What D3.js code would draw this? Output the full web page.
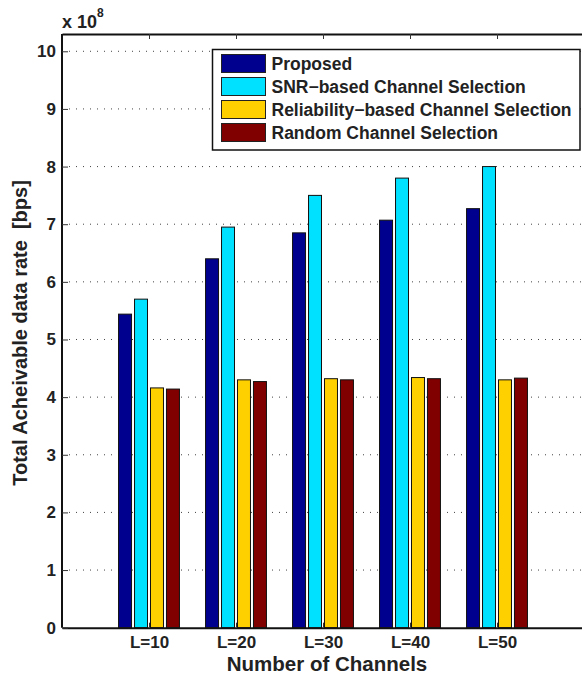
<!DOCTYPE html>
<html>
<head>
<meta charset="utf-8">
<title>Total achievable data rate vs number of channels</title>
<script src="https://d3js.org/d3.v7.min.js"></script>
<style>
  body { margin: 0; background: #fff; }
  text { font-family: "Liberation Sans", Arial, Helvetica, sans-serif; font-weight: bold; fill: #222; }
  .grid line { stroke: #444; stroke-width: 1; stroke-dasharray: 1,6; }
  .bar { stroke: #111; stroke-width: 1; }
</style>
</head>
<body>
<svg width="582" height="675"></svg>
<script>
// chart data (values in units of 1e8 bps)
const categories = ["L=10", "L=20", "L=30", "L=40", "L=50"];
const series = ["Proposed", "SNR\u2212based Channel Selection", "Reliability\u2212based Channel Selection", "Random Channel Selection"];
const colors = ["#00008f", "#00e1ff", "#ffd000", "#800000"];
const proposed    = [5.44, 6.40, 6.85, 7.07, 7.27];
const snrBased    = [5.70, 6.95, 7.50, 7.80, 8.00];
const reliability = [4.16, 4.30, 4.32, 4.34, 4.30];
const randomSel   = [4.14, 4.27, 4.30, 4.32, 4.33];
const yTicks = [0, 1, 2, 3, 4, 5, 6, 7, 8, 9, 10];

const values = [proposed, snrBased, reliability, randomSel];

const svg = d3.select("svg");
const pl = 62, pr = 584, pt = 34, pb = 627.7;

var x = d3.scaleLinear().domain([0, 6]).range([pl, pr]);
var y = d3.scaleLinear().domain([0, 10.3]).range([pb, pt]);
// offset of each series inside a group, in x units
var inner = d3.scaleBand().domain(d3.range(series.length))
    .range([-0.35, 0.35]).paddingInner(0.1875);

// dotted grid
svg.append("g").attr("class", "grid")
  .selectAll("line").data(yTicks.slice(1)).enter().append("line")
    .attr("x1", pl).attr("x2", pr)
    .attr("y1", d => y(d)).attr("y2", d => y(d));

// bars
var data = [];
categories.forEach((c, i) => {
  values.forEach((s, j) => data.push({ g: i + 1, s: j, v: s[i] }));
});
svg.append("g").selectAll("rect").data(data).enter().append("rect")
  .attr("class", "bar")
  .attr("x", d => x(d.g + inner(d.s)))
  .attr("width", d => x(inner.bandwidth()) - x(0))
  .attr("y", d => y(d.v))
  .attr("height", d => y(0) - y(d.v))
  .attr("fill", d => colors[d.s]);

// axes (ticks pointing inward)
var xb = d3.axisBottom(x).tickValues([1, 2, 3, 4, 5]).tickSizeInner(-5).tickSizeOuter(0)
  .tickFormat(d => categories[d - 1]).tickPadding(8);
var gx = svg.append("g").attr("transform", "translate(0," + pb + ")").call(xb);
var xt = d3.axisTop(x).tickValues([1, 2, 3, 4, 5]).tickSizeInner(-5).tickSizeOuter(0).tickFormat("");
var gxt = svg.append("g").attr("transform", "translate(0," + pt + ")").call(xt);
var yl = d3.axisLeft(y).tickValues(yTicks).tickSizeInner(-6).tickSizeOuter(0).tickPadding(6);
var gy = svg.append("g").attr("transform", "translate(" + pl + ",0)").call(yl);

[gx, gxt, gy].forEach(g => {
  g.select(".domain").attr("stroke", "#111").attr("stroke-width", 2);
  g.selectAll(".tick line").attr("stroke", "#333");
  g.selectAll("text").attr("font-size", 17).attr("font-family", null).attr("fill", "#222");
});
gy.select(".domain").attr("d", "M0," + pb + "V" + pt);

// exponent label
var ex = svg.append("text").attr("x", 62).attr("y", 28).attr("font-size", 18);
ex.append("tspan").text("x 10");
ex.append("tspan").attr("dy", -11).attr("font-size", 12).text("8");

// axis titles
svg.append("text").attr("x", (pl + pr) / 2 + 4).attr("y", 671)
  .attr("text-anchor", "middle").attr("font-size", 20.5).text("Number of Channels");
svg.append("text").attr("transform", "translate(27,333) rotate(-90)")
  .attr("text-anchor", "middle").attr("font-size", 20)
  .attr("xml:space", "preserve").text("Total Acheivable data rate  [bps]");

// legend
var lg = svg.append("g").attr("transform", "translate(212.5,49.5)");
lg.append("rect").attr("width", 367.5).attr("height", 100.5)
  .attr("fill", "#fff").attr("stroke", "#111").attr("stroke-width", 1.5);
var item = lg.selectAll(".item").data(series).enter().append("g")
  .attr("transform", (d, i) => "translate(9," + (5 + i * 23) + ")");
item.append("rect").attr("width", 44).attr("height", 18)
  .attr("fill", (d, i) => colors[i]).attr("stroke", "#222").attr("stroke-width", 1);
item.append("text").attr("x", 50).attr("y", 15).attr("font-size", 17.5).text(d => d);
</script>
</body>
</html>
